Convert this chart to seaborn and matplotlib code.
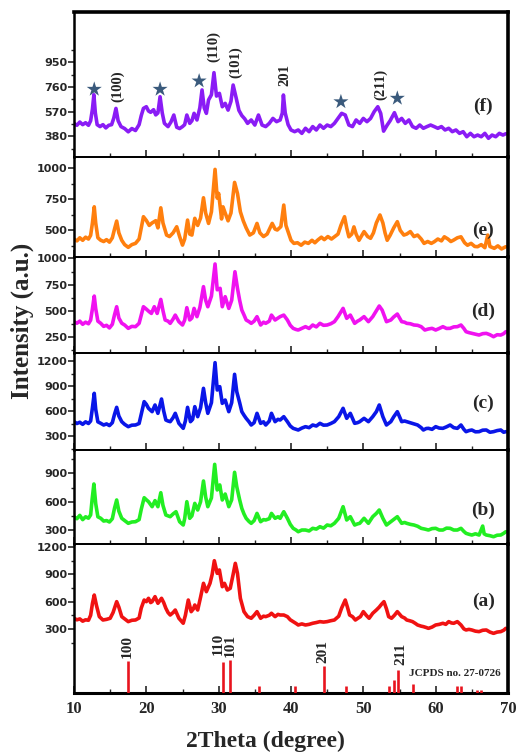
import matplotlib
matplotlib.use("Agg")
import matplotlib.pyplot as plt
import numpy as np
import pandas as pd
import seaborn as sns
from matplotlib.ticker import FixedLocator, MultipleLocator

# ---------------- data (2theta, intensity) ----------------
pattern_f = [(10.0, 480), (10.4, 465), (10.8, 490), (11.2, 470), (11.6, 485), (12.0, 465), (12.3, 500),
             (12.55, 590), (12.75, 700), (12.95, 560), (13.2, 470), (13.6, 455), (14.0, 470), (14.4, 445),
             (14.8, 465), (15.2, 470), (15.5, 520), (15.8, 595), (16.1, 500), (16.5, 455), (17.0, 440),
             (17.5, 415), (18.0, 440), (18.5, 425), (19.0, 470), (19.3, 540), (19.6, 595), (20.0, 608),
             (20.3, 575), (20.6, 565), (21.0, 585), (21.3, 545), (21.6, 560), (21.9, 685), (22.2, 560),
             (22.5, 480), (23.0, 455), (23.4, 490), (23.8, 544), (24.2, 450), (24.6, 440), (25.0, 455),
             (25.3, 470), (25.6, 544), (26.0, 480), (26.3, 500), (26.6, 557), (27.0, 506), (27.4, 600),
             (27.7, 737), (28.0, 600), (28.3, 557), (28.6, 660), (29.0, 700), (29.35, 870), (29.7, 690),
             (30.1, 711), (30.5, 608), (30.9, 634), (31.3, 582), (31.7, 650), (32.0, 775), (32.4, 680),
             (32.8, 580), (33.2, 540), (33.6, 515), (34.0, 480), (34.5, 506), (35.0, 467), (35.5, 544),
             (36.0, 467), (36.5, 455), (37.0, 480), (37.5, 518), (38.0, 493), (38.5, 506), (38.8, 560),
             (38.95, 698), (39.2, 560), (39.6, 470), (40.0, 429), (40.5, 416), (41.0, 429), (41.5, 403),
             (42.0, 442), (42.5, 416), (43.0, 455), (43.5, 429), (44.0, 467), (44.5, 442), (45.0, 467),
             (45.5, 455), (46.0, 480), (46.5, 518), (47.0, 557), (47.5, 544), (48.0, 467), (48.5, 455),
             (49.0, 506), (49.5, 480), (50.0, 518), (50.5, 493), (51.0, 518), (51.5, 570), (52.0, 608),
             (52.4, 557), (52.8, 420), (53.3, 467), (53.7, 500), (54.0, 531), (54.3, 562), (54.8, 493),
             (55.3, 518), (55.8, 480), (56.3, 506), (56.8, 455), (57.3, 442), (57.8, 467), (58.3, 442),
             (58.8, 455), (59.3, 467), (59.8, 455), (60.3, 442), (60.8, 455), (61.3, 429), (61.8, 442),
             (62.3, 416), (62.8, 429), (63.3, 403), (63.8, 416), (64.3, 377), (64.8, 403), (65.3, 377),
             (65.8, 390), (66.3, 377), (66.8, 403), (67.3, 365), (67.8, 390), (68.3, 377), (68.8, 403),
             (69.3, 390), (69.7, 400)]

pattern_e = [(10.0, 430), (10.4, 415), (10.8, 440), (11.2, 420), (11.6, 445), (12.0, 430), (12.3, 460),
             (12.55, 560), (12.8, 690), (13.0, 560), (13.3, 440), (13.7, 420), (14.1, 410), (14.5, 425),
             (14.9, 405), (15.3, 440), (15.6, 510), (15.9, 575), (16.2, 480), (16.6, 420), (17.0, 385),
             (17.5, 363), (18.0, 385), (18.5, 395), (19.0, 430), (19.3, 520), (19.6, 610), (20.0, 580),
             (20.4, 540), (20.8, 560), (21.3, 578), (21.6, 520), (22.0, 682), (22.3, 560), (22.8, 462),
             (23.2, 450), (23.7, 480), (24.2, 529), (24.6, 450), (25.0, 381), (25.3, 430), (25.7, 583),
             (26.0, 470), (26.3, 462), (26.7, 597), (27.1, 540), (27.5, 600), (27.9, 763), (28.2, 640),
             (28.6, 556), (29.0, 650), (29.5, 992), (29.8, 760), (30.0, 798), (30.4, 592), (30.6, 690),
             (30.9, 640), (31.3, 577), (31.7, 640), (32.2, 887), (32.6, 798), (33.0, 650), (33.4, 577),
             (33.8, 520), (34.3, 462), (34.8, 480), (35.3, 556), (35.7, 480), (36.2, 450), (36.7, 470),
             (37.4, 556), (37.8, 510), (38.1, 503), (38.6, 530), (39.0, 704), (39.3, 540), (39.7, 470),
             (40.0, 420), (40.4, 395), (40.9, 400), (41.4, 380), (41.9, 405), (42.4, 395), (42.9, 420),
             (43.3, 400), (43.7, 422), (44.2, 445), (44.6, 425), (45.1, 450), (45.6, 430), (46.0, 448),
             (46.5, 470), (46.9, 540), (47.4, 610), (47.7, 520), (48.0, 448), (48.4, 470), (48.7, 528),
             (49.0, 470), (49.4, 420), (49.8, 460), (50.1, 490), (50.6, 450), (51.0, 436), (51.4, 480),
             (51.8, 560), (52.3, 624), (52.7, 560), (53.0, 480), (53.3, 420), (53.7, 460), (54.2, 520),
             (54.7, 570), (55.1, 500), (55.6, 462), (56.0, 470), (56.5, 490), (57.0, 450), (57.5, 462),
             (58.0, 430), (58.4, 395), (58.9, 410), (59.4, 395), (59.8, 408), (60.3, 430), (60.8, 415),
             (61.2, 448), (61.7, 430), (62.1, 410), (62.5, 422), (63.0, 440), (63.5, 448), (64.0, 400),
             (64.4, 380), (64.9, 395), (65.4, 370), (65.8, 368), (66.3, 385), (66.8, 360), (67.2, 462),
             (67.5, 370), (68.1, 355), (68.6, 375), (69.1, 350), (69.7, 368)]

pattern_d = [(10.0, 395), (10.4, 380), (10.8, 400), (11.2, 370), (11.6, 390), (12.0, 375), (12.3, 410),
             (12.55, 520), (12.8, 640), (13.0, 520), (13.3, 400), (13.7, 379), (14.1, 350), (14.5, 360),
             (14.9, 335), (15.3, 370), (15.6, 460), (15.9, 538), (16.2, 430), (16.6, 380), (17.0, 363),
             (17.5, 331), (18.0, 350), (18.5, 347), (19.0, 379), (19.3, 460), (19.6, 538), (20.0, 515),
             (20.4, 490), (20.7, 474), (21.1, 538), (21.5, 474), (22.0, 608), (22.3, 500), (22.6, 411),
             (23.0, 400), (23.3, 379), (23.7, 420), (24.0, 458), (24.5, 395), (25.0, 363), (25.3, 410),
             (25.6, 529), (26.0, 411), (26.3, 430), (26.6, 522), (27.0, 443), (27.4, 530), (27.9, 730),
             (28.2, 600), (28.5, 538), (29.0, 640), (29.5, 947), (29.8, 700), (30.2, 714), (30.5, 538),
             (30.9, 634), (31.4, 522), (31.8, 600), (32.25, 873), (32.6, 714), (32.9, 600), (33.2, 506),
             (33.5, 460), (33.8, 411), (34.2, 395), (34.5, 379), (34.9, 400), (35.3, 443), (35.8, 363),
             (36.2, 390), (36.5, 379), (37.0, 400), (37.3, 458), (37.8, 411), (38.2, 430), (38.5, 443),
             (39.0, 458), (39.5, 411), (39.9, 360), (40.3, 331), (40.7, 320), (41.0, 315), (41.5, 331),
             (42.0, 347), (42.5, 330), (43.0, 363), (43.5, 345), (44.0, 379), (44.5, 360), (45.0, 363),
             (45.5, 375), (46.0, 395), (46.5, 443), (47.2, 522), (47.7, 427), (48.2, 458), (48.8, 379),
             (49.2, 400), (49.5, 411), (50.1, 443), (50.7, 395), (51.3, 443), (51.8, 500), (52.2, 545),
             (52.6, 506), (53.2, 395), (53.8, 411), (54.2, 440), (54.7, 468), (55.3, 395), (55.7, 390),
             (56.0, 379), (56.5, 375), (57.0, 363), (57.5, 360), (58.0, 347), (58.5, 315), (59.0, 325),
             (59.5, 331), (60.0, 315), (60.5, 330), (61.0, 347), (61.5, 330), (62.0, 331), (62.5, 345),
             (63.0, 347), (63.5, 363), (63.9, 330), (64.2, 299), (64.6, 290), (65.0, 283), (65.5, 275),
             (66.0, 267), (66.5, 280), (67.0, 283), (67.5, 270), (68.0, 251), (68.5, 270), (69.0, 267),
             (69.4, 280), (69.7, 299)]

pattern_c = [(10.0, 472), (10.4, 450), (10.8, 465), (11.2, 440), (11.6, 470), (12.0, 450), (12.3, 480),
             (12.55, 640), (12.8, 812), (13.0, 620), (13.3, 470), (13.7, 452), (14.1, 432), (14.5, 445),
             (14.9, 425), (15.3, 460), (15.6, 560), (15.9, 644), (16.2, 540), (16.6, 472), (17.0, 440),
             (17.5, 412), (18.0, 430), (18.5, 432), (19.0, 450), (19.3, 560), (19.7, 712), (20.0, 680),
             (20.3, 632), (20.8, 592), (21.2, 672), (21.6, 572), (22.1, 744), (22.4, 600), (22.7, 492),
             (23.0, 480), (23.3, 472), (23.7, 520), (24.0, 572), (24.5, 452), (25.1, 392), (25.4, 480),
             (25.7, 644), (26.1, 472), (26.4, 500), (26.7, 652), (27.1, 532), (27.5, 640), (27.9, 872),
             (28.2, 700), (28.5, 572), (29.0, 700), (29.5, 1180), (29.8, 852), (30.15, 892), (30.5, 692),
             (30.9, 732), (31.4, 592), (31.8, 700), (32.2, 1040), (32.5, 832), (32.9, 700), (33.2, 592),
             (33.5, 550), (33.8, 512), (34.2, 470), (34.5, 432), (34.9, 460), (35.3, 572), (35.8, 452),
             (36.2, 470), (36.5, 432), (37.0, 480), (37.3, 572), (37.8, 472), (38.2, 500), (38.5, 492),
             (39.0, 532), (39.5, 472), (39.9, 420), (40.3, 392), (40.7, 380), (41.0, 372), (41.5, 395),
             (42.0, 412), (42.5, 400), (43.0, 432), (43.5, 420), (44.0, 452), (44.5, 430), (45.0, 432),
             (45.5, 450), (46.0, 472), (46.6, 532), (47.2, 632), (47.7, 512), (48.2, 572), (48.8, 452),
             (49.2, 460), (49.5, 472), (50.1, 512), (50.7, 472), (51.3, 532), (51.8, 592), (52.2, 672),
             (52.7, 532), (53.2, 432), (53.8, 472), (54.2, 530), (54.7, 592), (55.3, 472), (55.7, 480),
             (56.0, 472), (56.4, 460), (56.8, 452), (57.2, 440), (57.5, 432), (58.0, 400), (58.3, 372),
             (58.7, 390), (59.0, 392), (59.5, 380), (60.0, 412), (60.5, 395), (61.0, 392), (61.5, 410),
             (62.0, 432), (62.5, 400), (63.0, 392), (63.5, 432), (63.9, 380), (64.2, 352), (64.6, 365),
             (65.0, 372), (65.5, 350), (66.0, 352), (66.5, 370), (67.0, 372), (67.5, 345), (68.0, 352),
             (68.5, 365), (69.0, 372), (69.4, 345), (69.7, 352)]

pattern_b = [(10.0, 441), (10.4, 420), (10.8, 455), (11.2, 410), (11.6, 440), (12.0, 425), (12.3, 460),
             (12.5, 620), (12.75, 787), (13.0, 580), (13.3, 440), (13.7, 424), (14.1, 395), (14.5, 400),
             (14.9, 385), (15.3, 420), (15.6, 530), (15.9, 618), (16.2, 500), (16.6, 424), (17.0, 400),
             (17.5, 371), (18.0, 385), (18.5, 388), (19.0, 410), (19.3, 520), (19.7, 642), (20.0, 620),
             (20.3, 600), (20.8, 547), (21.2, 611), (21.6, 547), (22.0, 695), (22.3, 560), (22.7, 459),
             (23.0, 450), (23.3, 441), (23.7, 470), (24.1, 494), (24.6, 388), (25.1, 353), (25.3, 420),
             (25.6, 600), (26.0, 424), (26.3, 450), (26.7, 582), (27.1, 512), (27.5, 600), (27.9, 819),
             (28.2, 650), (28.5, 547), (29.0, 640), (29.45, 995), (29.8, 724), (30.15, 777), (30.5, 618),
             (30.9, 681), (31.4, 547), (31.8, 620), (32.2, 911), (32.5, 759), (32.9, 620), (33.2, 529),
             (33.5, 470), (33.8, 424), (34.2, 390), (34.5, 371), (34.9, 400), (35.3, 476), (35.8, 388),
             (36.2, 410), (36.5, 406), (37.0, 420), (37.3, 476), (37.8, 424), (38.2, 440), (38.5, 424),
             (39.0, 494), (39.5, 424), (39.9, 360), (40.3, 318), (40.7, 300), (41.0, 282), (41.5, 300),
             (42.0, 300), (42.5, 290), (43.0, 318), (43.5, 310), (44.0, 335), (44.5, 320), (45.0, 353),
             (45.5, 345), (46.0, 371), (46.6, 424), (47.2, 547), (47.7, 406), (48.2, 441), (48.8, 353),
             (49.2, 365), (49.5, 371), (50.1, 424), (50.7, 371), (51.3, 441), (51.8, 476), (52.2, 512),
             (52.7, 424), (53.2, 353), (53.8, 388), (54.2, 410), (54.7, 441), (55.3, 371), (55.7, 380),
             (56.0, 371), (56.5, 360), (57.0, 353), (57.5, 340), (58.0, 318), (58.5, 310), (59.0, 300),
             (59.5, 315), (60.0, 318), (60.5, 300), (61.0, 300), (61.5, 320), (62.0, 318), (62.5, 300),
             (63.0, 300), (63.5, 318), (63.9, 285), (64.2, 265), (64.6, 255), (65.0, 247), (65.5, 260),
             (66.0, 247), (66.5, 342), (66.7, 260), (67.0, 247), (67.5, 240), (68.0, 229), (68.5, 245),
             (69.0, 247), (69.4, 265), (69.7, 282)]

pattern_a = [(10.0, 417), (10.4, 400), (10.8, 410), (11.2, 385), (11.6, 400), (12.0, 395), (12.3, 450),
             (12.55, 580), (12.8, 673), (13.1, 560), (13.5, 435), (14.0, 398), (14.5, 405), (15.0, 417),
             (15.4, 480), (15.9, 600), (16.2, 540), (16.6, 435), (17.0, 410), (17.5, 380), (18.0, 395),
             (18.5, 398), (19.0, 420), (19.3, 530), (19.7, 618), (20.0, 600), (20.3, 637), (20.6, 590),
             (20.8, 600), (21.2, 655), (21.6, 582), (22.1, 637), (22.4, 590), (22.7, 527), (23.0, 480),
             (23.3, 453), (23.7, 480), (24.0, 508), (24.5, 417), (25.1, 362), (25.4, 450), (25.8, 618),
             (26.2, 490), (26.5, 520), (26.7, 563), (27.1, 508), (27.5, 650), (27.9, 802), (28.3, 710),
             (28.8, 802), (29.1, 900), (29.4, 1051), (29.8, 912), (30.1, 949), (30.5, 765), (30.8, 802),
             (31.2, 728), (31.6, 747), (32.0, 900), (32.3, 1022), (32.6, 912), (33.0, 637), (33.5, 490),
             (34.0, 435), (34.5, 417), (34.9, 450), (35.3, 490), (35.8, 417), (36.2, 440), (36.5, 435),
             (37.0, 450), (37.3, 472), (37.8, 435), (38.2, 460), (38.5, 453), (39.0, 453), (39.5, 435),
             (39.9, 400), (40.3, 380), (40.7, 360), (41.0, 343), (41.5, 355), (42.0, 343), (42.5, 350),
             (43.0, 362), (43.5, 370), (44.0, 380), (44.5, 375), (45.0, 380), (45.5, 390), (46.0, 398),
             (46.6, 440), (47.0, 530), (47.5, 618), (47.8, 540), (48.1, 453), (48.5, 435), (48.9, 398),
             (49.3, 420), (49.6, 435), (50.0, 490), (50.4, 450), (50.8, 417), (51.3, 472), (51.8, 508),
             (52.2, 540), (52.5, 570), (52.85, 600), (53.2, 520), (53.5, 435), (53.9, 417), (54.3, 450),
             (54.7, 490), (55.3, 435), (55.7, 420), (56.0, 398), (56.4, 390), (56.8, 380), (57.2, 360),
             (57.5, 343), (58.0, 330), (58.3, 325), (58.7, 315), (59.0, 306), (59.5, 320), (60.0, 343),
             (60.5, 350), (61.0, 362), (61.4, 350), (61.8, 380), (62.2, 365), (62.5, 362), (63.0, 380),
             (63.5, 343), (63.9, 300), (64.2, 288), (64.6, 295), (65.0, 288), (65.5, 275), (66.0, 270),
             (66.5, 285), (67.0, 288), (67.5, 265), (68.0, 251), (68.5, 265), (69.0, 270), (69.4, 285),
             (69.7, 306)]

# JCPDS 27-0726 reference lines (2theta, relative intensity)
ref_pos = [17.4, 30.6, 31.5, 35.6, 40.6, 44.5, 47.6, 53.6, 54.3, 54.8, 56.9, 62.9, 63.5, 65.7, 66.3]
ref_int = [97, 94, 100, 20, 20, 82, 20, 20, 41, 71, 28, 20, 20, 10, 10]
ref_labels = [("100", 17.4, 142), ("110", 30.0, 150), ("101", 31.6, 147), ("201", 44.4, 127), ("211", 55.25, 119)]

# hkl labels on the top pattern
hkl_f = [("(100)", 16.1, 767), ("(110)", 29.3, 1071), ("(101)", 32.4, 948), ("201", 39.2, 852), ("(211)", 52.35, 783)]
star_x = [12.8, 21.9, 27.3, 46.9, 54.7]
star_y = [742, 742, 806, 646, 673]

panel_names = ["f", "e", "d", "c", "b", "a"]
panel_data = [pattern_f, pattern_e, pattern_d, pattern_c, pattern_b, pattern_a]
panel_colors = ["#8a1cf5", "#ff7f0e", "#f012f0", "#0a16e8", "#22ee22", "#f01212"]
panel_ylim = [(221, 1337), (285, 1092), (95, 1014), (132, 1296), (152, 1147), (-406, 1235)]
panel_major = [[380, 570, 760, 950], [500, 750, 1000], [250, 500, 750, 1000],
               [300, 600, 900, 1200], [300, 600, 900], [300, 600, 900, 1200]]
panel_minor = [[285, 475, 665, 855, 1045], [375, 625, 875], [125, 375, 625, 875],
               [150, 450, 750, 1050], [450, 750, 1050], [150, 450, 750, 1050]]
panel_label_y = [613, 502, 490, 692, 512, 600]

# ---------------- layout ----------------
sns.set_theme(style="ticks")
plt.rcParams["font.family"] = ["DejaVu Sans"]
SERIF = ["Liberation Serif", "DejaVu Serif"]

W_PX, H_PX = 517, 753
fig = plt.figure(figsize=(W_PX / 100, H_PX / 100), dpi=100)
fig.patch.set_facecolor("white")

x_left, x_right = 74, 508
bounds = [(12, 157), (157, 257), (257, 353), (353, 450), (450, 544), (544, 693)]

axes = []
for i, (top, bot) in enumerate(bounds):
    ax = fig.add_axes([x_left / W_PX, 1 - bot / H_PX, (x_right - x_left) / W_PX, (bot - top) / H_PX])
    pts = panel_data[i]
    df = pd.DataFrame(pts, columns=["theta", "intensity"])
    sns.lineplot(data=df, x="theta", y="intensity", ax=ax, color=panel_colors[i],
                 linewidth=2.6, estimator=None, sort=False)
    ax.set_xlim(10, 70)
    ax.set_ylim(*panel_ylim[i])
    ax.set_xlabel("")
    ax.set_ylabel("")
    ax.xaxis.set_major_locator(MultipleLocator(10))
    ax.xaxis.set_minor_locator(MultipleLocator(5))
    ax.yaxis.set_major_locator(FixedLocator(panel_major[i]))
    ax.yaxis.set_minor_locator(FixedLocator(panel_minor[i]))
    ax.tick_params(axis="x", which="major", direction="in", length=5, width=1.2, top=False)
    ax.tick_params(axis="x", which="minor", direction="in", length=3, width=1.0, top=False)
    ax.tick_params(axis="y", which="major", direction="out", length=4, width=1.2, pad=1,
                   labelsize=8)
    ax.tick_params(axis="y", which="minor", direction="out", length=2.5, width=1.0)
    for lab in ax.get_yticklabels():
        lab.set_fontweight("bold")
        lab.set_family(["DejaVu Sans"])
    for s in ["left", "right", "top", "bottom"]:
        ax.spines[s].set_visible(True)
        ax.spines[s].set_color("black")
    ax.spines["left"].set_linewidth(1.8)
    ax.spines["right"].set_linewidth(2.6)
    ax.spines["top"].set_linewidth(1.3 if i > 0 else 2.6)
    ax.spines["bottom"].set_linewidth(1.3 if i < 5 else 2.2)
    ax.patch.set_alpha(0)
    if i < 5:
        ax.set_xticklabels([])
    ax.text(66.6, panel_label_y[i], f"({panel_names[i]})", family=SERIF, fontweight="bold",
            fontsize=14, ha="center", va="center")
    axes.append(ax)

ax_f = axes[0]
ax_a = axes[5]

# hkl labels and star markers in the top pattern
for txt, x, y in hkl_f:
    ax_f.text(x, y, txt, rotation=90, family=SERIF, fontweight="bold", fontsize=10.5,
              ha="center", va="center")
sns.scatterplot(x=star_x, y=star_y, ax=ax_f, marker="*", s=130, color="#3a5a7c",
                edgecolor="none", legend=False)

# bottom axis tick labels
ax_a.tick_params(axis="x", which="major", labelsize=12, pad=6)
for lab in ax_a.get_xticklabels():
    lab.set_fontweight("bold")
    lab.set_family(SERIF)

# reference stick pattern
ax_ref = fig.add_axes([x_left / W_PX, 1 - 693 / H_PX, (x_right - x_left) / W_PX, 63 / H_PX])
ax_ref.set_xlim(10, 70)
ax_ref.set_ylim(0, 192.7)
ax_ref.vlines(ref_pos, 0, ref_int, color="#e8141e", linewidth=1.9)
for txt, x, y in ref_labels:
    ax_ref.text(x, y, txt, rotation=90, family=SERIF, fontweight="bold", fontsize=11,
                ha="center", va="center")
ax_ref.text(56.3, 60, "JCPDS no. 27-0726", family=SERIF, fontweight="bold", fontsize=8,
            ha="left", va="center")
ax_ref.axis("off")
ax_ref.patch.set_alpha(0)

# axis titles
fig.text(22 / W_PX, 1 - 321 / H_PX, "Intensity (a.u.)", rotation=90, family=SERIF,
         fontweight="bold", fontsize=18, ha="center", va="center")
fig.text(265 / W_PX, 1 - 741 / H_PX, "2Theta (degree)", family=SERIF,
         fontweight="bold", fontsize=17, ha="center", va="center")

fig.savefig("out.png", dpi=100, facecolor="white")
